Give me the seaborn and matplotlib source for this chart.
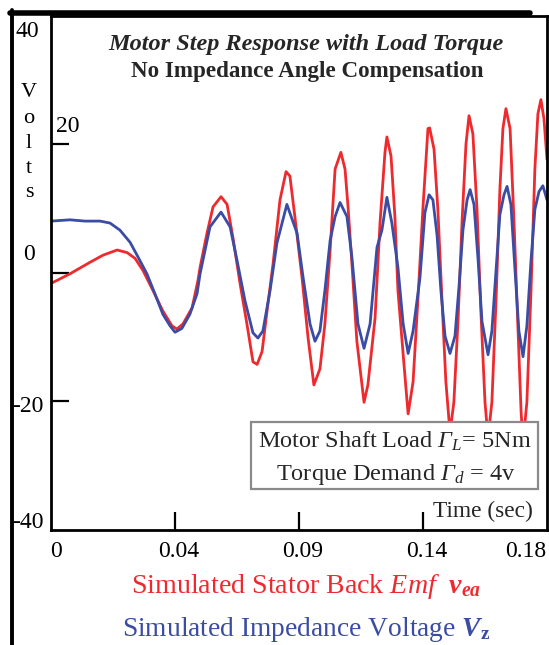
import matplotlib
matplotlib.use("Agg")
import matplotlib.pyplot as plt
from matplotlib.patches import Rectangle
from matplotlib.lines import Line2D
import seaborn as sns
import pandas as pd

# ---------------- data (time in ms, volts) ----------------
t_vea = [0, 6.9, 14.2, 18.9, 24.0, 27.6, 30.5, 33.4, 37.0, 40.6, 43.9, 45.7, 47.9, 51.2, 53.3,
         54.1, 56.6, 58.8, 61.7, 63.9, 66.0, 68.6, 71.1, 73.3, 74.8, 76.6, 78.4, 80.6, 83.1,
         85.3, 86.7, 88.5, 91.1, 93.3, 95.4, 97.6, 99.4, 101.3, 103.1, 105.2, 106.7, 107.8,
         109.2, 111.0, 113.6, 115.0, 117.6, 119.4, 121.2, 121.9, 123.4, 124.8, 125.9, 128.1,
         129.6, 131.4, 133.2, 135.0, 136.8, 137.4, 139.0, 140.4, 141.9, 143.3, 144.8, 146.2,
         147.7, 149.2, 150.6, 151.7, 153.1, 154.6, 156.0, 157.5, 158.6, 160.0, 161.5, 162.9,
         164.0, 165.1, 166.6, 168.0, 169.5, 170.6, 171.3, 172.7, 174.2, 175.6, 176.7, 177.8,
         178.9, 180.0]
v_vea = [-1.7, -0.2, 1.6, 2.7, 3.5, 3.1, 2.2, 0.3, -2.8, -6.0, -8.3, -8.8, -8.0, -5.5, -1.3,
         0.8, 6.1, 10.2, 11.8, 10.6, 5.5, -1.7, -8.0, -13.9, -14.3, -12.3, -6.0, 1.4, 11.3,
         15.7, 15.0, 8.7, -0.8, -10.2, -17.5, -15.0, -8.0, 3.5, 16.1, 18.7, 16.1, 10.2,
         1.4, -10.7, -20.2, -17.5, -7.1, 7.7, 18.7, 21.1, 18.1, 8.7, -2.8, -14.3,
         -22.0, -17.0, -3.9, 10.2, 22.4, 22.5, 19.2, 9.8, -4.4, -17.0, -24.9, -20.2,
         -7.6, 8.2, 20.0, 24.4, 21.6, 9.8, -6.0, -20.2, -25.7, -20.2, -4.4, 12.9,
         22.4, 25.5, 22.4, 8.2, -9.1, -21.7, -26.5, -20.2, -2.8, 16.1, 24.7, 26.9,
         23.9, 17.6]

t_vz = [0, 6.9, 12.3, 17.8, 21.4, 25.0, 28.7, 31.6, 34.8, 37.7, 40.6, 43.2, 45.0, 47.5, 50.4,
        53.0, 54.1, 57.7, 61.7, 65.0, 67.5, 70.4, 73.3, 75.1, 76.9, 79.5, 82.0, 85.6, 89.3,
        91.5, 94.0, 95.8, 97.6, 99.4, 101.3, 103.1, 104.9, 107.4, 109.2, 111.4, 113.6, 115.8,
        118.3, 120.1, 121.9, 123.7, 125.9, 127.8, 129.6, 131.4, 133.9, 135.7, 137.2, 138.6,
        140.1, 141.5, 143.0, 144.8, 146.6, 148.1, 149.5, 151.0, 152.1, 153.5, 155.0, 156.4,
        158.6, 160.0, 161.5, 162.9, 164.4, 165.5, 166.9, 168.4, 169.8, 171.3, 172.7, 174.2,
        175.6, 177.1, 178.5, 180.0]
v_vz = [8.0, 8.2, 8.0, 8.0, 7.7, 6.6, 4.7, 2.4, -0.2, -3.3, -6.5, -8.3, -9.3, -8.7, -6.5,
        -3.3, -0.2, 7.1, 9.4, 7.1, 1.9, -4.4, -9.4, -10.2, -9.1, -2.8, 4.6, 10.6, 6.1,
        -0.8, -8.0, -10.7, -9.1, -2.8, 5.0, 8.7, 10.9, 8.7, 2.4, -8.0, -11.8, -8.0,
        3.9, 6.6, 11.7, 7.7, 0.8, -8.0, -12.6, -9.1, -0.8, 9.3, 12.1, 11.3,
        5.8, -2.8, -9.9, -12.6, -9.9, -2.0, 6.6, 11.3, 12.9, 10.6, 1.9, -7.6,
        -12.8, -9.1, 0.3, 9.0, 12.1, 13.4, 10.6, 0.3, -9.1, -13.1, -8.3, 1.9,
        9.8, 12.6, 13.5, 11.3]

x_ticks = [45, 90, 135]
x_tick_labels = ["0", "0.04", "0.09", "0.14", "0.18"]
y_ticks = [20, 0, -20]
y_tick_labels = ["40", "20", "0", "-20", "-40"]

RED = "#ee2a2e"
BLUE = "#3a4ca4"

df = pd.DataFrame({
    "t": t_vea + t_vz,
    "v": v_vea + v_vz,
    "series": ["vea"] * len(t_vea) + ["vz"] * len(t_vz),
})

sns.set_theme(style="white")
plt.rcParams["font.family"] = ["Liberation Serif", "DejaVu Serif"]
plt.rcParams["mathtext.fontset"] = "custom"
plt.rcParams["mathtext.rm"] = "Liberation Serif:italic"
plt.rcParams["mathtext.it"] = "Liberation Serif:italic"
plt.rcParams["mathtext.bf"] = "Liberation Serif:bold"
plt.rcParams["mathtext.bfit"] = "Liberation Serif:italic:bold"

W, H = 549, 645
fig = plt.figure(figsize=(W / 100, H / 100), dpi=100)
ax = fig.add_axes([51 / W, 1 - 529.5 / H, 496 / W, 514 / H])

sns.lineplot(data=df, x="t", y="v", hue="series", palette={"vea": RED, "vz": BLUE},
             estimator=None, sort=False, linewidth=2.0, legend=False, ax=ax)

ax.set_xlim(0, 180)
ax.set_ylim(-40, 40)
ax.set_xlabel("")
ax.set_ylabel("")
for s in ax.spines.values():
    s.set_color("black")
    s.set_linewidth(2.0)
ax.set_xticks(x_ticks)
ax.set_yticks(y_ticks)
ax.tick_params(axis="both", direction="in", length=13, width=1.6, color="black",
               labelbottom=False, labelleft=False, bottom=True, left=True)

def fx(px):
    return px / W

def fy(py):
    return 1 - py / H

# outer frame lines
fig.add_artist(Line2D([fx(11.7), fx(11.7)], [fy(10), fy(645)], color="black", lw=2.8))
fig.add_artist(Line2D([fx(10), fx(530)], [fy(12.8), fy(12.8)], color="black", lw=4.0))

# y tick labels
ylab_pos = [(27, 37), (68, 132), (29, 260), (28, 412), (28, 528)]
for lab, (px, py) in zip(y_tick_labels, ylab_pos):
    fig.text(fx(px), fy(py), lab, ha="center", va="baseline", fontsize=17, color="black")

# x tick labels
xlab_px = [56, 179, 303, 427, 526]
for lab, px in zip(x_tick_labels, xlab_px):
    fig.text(fx(px), fy(557), lab, ha="center", va="baseline", fontsize=17, color="black")

# y axis label "Volts" stacked
for ch, py in zip("Volts", [97, 123, 148, 173, 197]):
    fig.text(fx(29), fy(py), ch, ha="center", va="baseline", fontsize=16, color="black")

# title
ax.text(0.514, 0.933, "Motor Step Response with Load Torque", transform=ax.transAxes,
        ha="center", va="baseline", fontsize=17.5, fontweight="bold", fontstyle="italic")
ax.text(0.516, 0.880, "No Impedance Angle Compensation", transform=ax.transAxes,
        ha="center", va="baseline", fontsize=16.6, fontweight="bold")

# condition box
ax.add_patch(Rectangle((0.403, 0.079), 0.579, 0.130, transform=ax.transAxes,
                       facecolor="white", edgecolor="#8a8a8a", lw=1.6, zorder=5))
ax.text(0.694, 0.1586, r"Motor Shaft Load $\Gamma_{L}$= 5Nm", transform=ax.transAxes,
        ha="center", va="baseline", fontsize=17.5, zorder=6)
ax.text(0.694, 0.0963, r"Torque Demand $\Gamma_{d}$ = 4v", transform=ax.transAxes,
        ha="center", va="baseline", fontsize=17.5, zorder=6)
ax.text(0.770, 0.0243, "Time (sec)", transform=ax.transAxes,
        ha="left", va="baseline", fontsize=16.8, zorder=6)

# bottom legend text
fig.text(fx(306), fy(593), r"Simulated Stator Back $\mathit{Emf}\ \ \mathbfit{v}_{\mathbfit{ea}}$",
         ha="center", va="baseline", fontsize=20.2, color=RED)
fig.text(fx(306), fy(636), r"Simulated Impedance Voltage $\mathbfit{V}_{\mathbf{z}}$",
         ha="center", va="baseline", fontsize=19.8, color=BLUE)

fig.savefig("out.png", dpi=100)
